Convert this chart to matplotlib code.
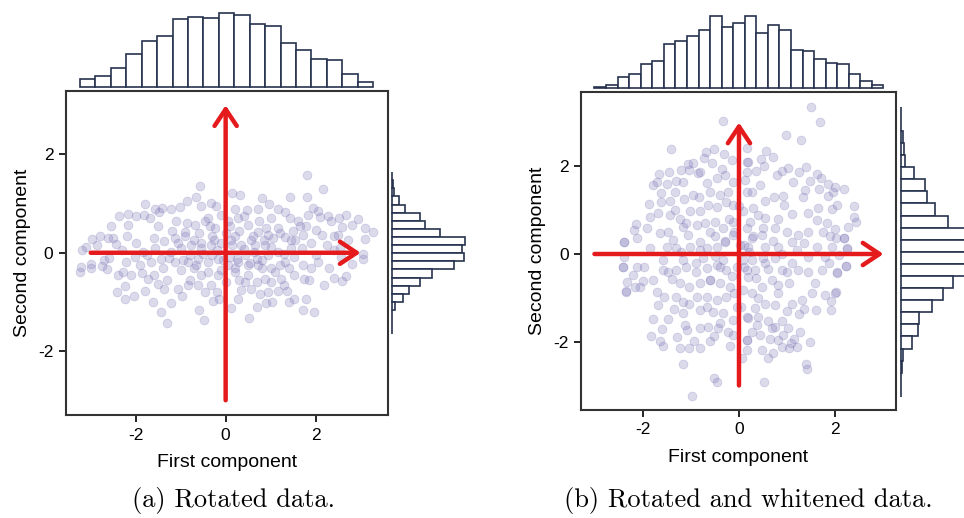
import numpy as np
import matplotlib.pyplot as plt

# ---- data ----
# (a) rotated data: scatter points (first, second component)
rot_pts = [
    (1.81, 1.59), (2.16, 1.29), (-0.57, 1.36), (1.81, 1.14), (1.44, 1.13), (0.14, 1.21), (0.33, 1.17),
    (0.81, 1.11), (-0.67, 1.14), (-0.86, 1.05), (-1.79, 1.00), (-0.33, 1.01), (-0.21, 0.95), (-0.55, 0.95),
    (-1.01, 0.93), (-1.21, 0.89), (-1.42, 0.92), (-1.58, 0.88), (-1.48, 0.82), (-1.81, 0.77), (-2.18, 0.79),
    (-2.38, 0.74), (-1.99, 0.75), (-1.68, 0.71), (0.20, 0.90), (0.47, 0.86), (0.72, 0.90), (0.96, 1.00),
    (1.16, 0.90), (1.31, 0.82), (1.44, 0.71), (1.94, 0.92), (2.05, 0.84), (1.82, 0.77), (2.28, 0.74),
    (2.52, 0.70), (2.68, 0.77), (2.95, 0.68), (2.81, 0.57), (2.59, 0.53), (2.35, 0.64), (2.09, 0.72),
    (1.79, 0.55), (1.61, 0.65), (3.10, 0.50), (3.27, 0.43), (3.10, 0.28), (-2.54, 0.55), (-2.80, 0.34),
    (-2.98, 0.28), (-3.11, 0.12), (-3.19, 0.05), (-3.22, -0.29), (-3.24, -0.40), (-3.00, -0.23),
    (-2.85, 0.16), (-2.61, 0.31), (-2.43, 0.18), (-2.17, 0.57), (-2.74, -0.27), (-2.64, -0.34),
    (-2.99, -0.32), (-2.41, -0.80), (-2.24, -0.94), (-2.23, -0.68), (-2.04, -0.87), (-1.79, -0.78),
    (-1.62, -1.01), (-1.44, -1.20), (-1.31, -1.42), (-1.22, -1.03), (-0.97, -0.88), (-0.60, -1.17),
    (-0.48, -1.36), (-0.28, -0.99), (-0.15, -0.95), (0.12, -1.12), (0.28, -0.95), (0.51, -1.32),
    (0.70, -1.11), (0.90, -1.02), (1.02, -1.00), (1.40, -1.01), (1.53, -0.95), (1.71, -1.16),
    (1.79, -0.95), (1.96, -1.21), (2.18, -0.65), (2.41, -0.51), (2.59, -0.57), (2.67, -0.47),
    (2.81, -0.23), (3.06, -0.12), (3.06, -0.03), (2.57, -0.08), (2.41, 0.05), (2.25, 0.16), (2.14, 0.36),
    (2.50, 0.36), (2.71, 0.26), (2.00, 0.47), (1.72, 0.36), (1.46, 0.26), (1.53, -0.08), (1.72, -0.25),
    (1.90, -0.32), (2.05, -0.18), (1.53, -0.46), (1.75, -0.53), (1.24, -0.53), (1.16, -0.77),
    (1.37, -0.78), (0.94, -0.80), (0.76, -0.84), (0.57, -0.73), (0.42, -0.60), (0.87, -0.53),
    (1.01, -0.32), (0.72, -0.25), (0.50, -0.25), (0.27, -0.18), (0.20, -0.39), (-0.17, -0.46),
    (-0.32, -0.66), (-0.47, -0.80), (-0.61, -0.66), (-0.84, -0.66), (-1.06, -0.73), (-1.36, -0.73),
    (-1.50, -0.63), (-1.73, -0.53), (-1.87, -0.42), (-2.10, -0.46), (-2.28, -0.39), (-2.21, -0.18),
    (-2.02, -0.08), (-1.84, 0.02), (-1.58, 0.09), (-1.36, 0.23), (-1.13, 0.29), (-0.91, 0.43),
    (-0.69, 0.57), (-0.47, 0.64), (-0.24, 0.50), (-0.10, 0.77), (0.05, 0.64), (0.27, 0.71), (0.50, 0.57),
    (0.72, 0.43), (0.94, 0.36), (1.16, 0.50), (1.31, 0.33), (0.87, 0.16), (0.57, 0.26), (0.35, 0.16),
    (0.13, 0.26), (-0.10, 0.19), (-0.32, 0.16), (-0.54, 0.09), (-0.76, 0.16), (-0.99, 0.09),
    (-1.21, 0.02), (-1.43, -0.12), (-1.65, -0.18), (-1.13, -0.18), (-0.84, -0.18), (-0.61, -0.12),
    (-0.39, -0.18), (-0.17, -0.12), (0.05, -0.25), (0.42, -0.05), (0.64, 0.02), (0.94, -0.05),
    (1.16, 0.02), (1.31, -0.18), (-1.20, 0.45), (-0.90, 0.35), (-0.60, 0.40), (-0.30, 0.35), (0.00, 0.40),
    (0.30, 0.45), (0.60, 0.35), (0.90, 0.50), (1.20, 0.40), (1.50, 0.45), (-1.40, -0.30), (-1.00, -0.35),
    (-0.70, -0.30), (-0.40, -0.40), (-0.10, -0.35), (0.20, -0.30), (0.50, -0.45), (0.80, -0.30),
    (1.10, -0.40), (1.40, -0.30), (-1.60, 0.30), (-0.80, -0.05), (-0.50, -0.02), (-0.20, 0.05),
    (0.10, -0.08), (0.40, 0.08), (0.70, -0.12), (1.00, 0.12), (1.30, -0.02), (1.70, 0.10), (-2.00, 0.20),
    (-2.30, 0.05), (-2.60, -0.10), (-1.90, -0.25), (2.00, -0.05), (2.30, -0.30), (1.90, 0.20), (2.40, 0.35),
    (-2.50, 0.30), (-2.70, -0.15), (-1.10, 0.65), (-0.40, 0.70), (0.40, 0.75), (1.00, 0.70), (-0.80, -0.55),
    (0.00, -0.60), (0.70, -0.60), (1.30, -0.65), (-1.30, -0.55), (-0.20, -0.80), (0.35, -0.75),
    (-0.55, 0.20), (0.15, 0.15), (-0.05, -0.15), (0.55, -0.20), (-1.75, -0.05), (1.55, 0.25),
    (-0.35, 0.55), (0.85, 0.25), (-0.95, -0.15),
    # extra points in the dense band
    (-1.05, 0.20), (-0.70, 0.25), (-0.25, 0.25), (0.20, 0.35), (0.65, 0.15), (1.05, 0.30), (1.45, 0.10),
    (-1.25, -0.10), (-0.65, -0.25), (-0.30, -0.05), (0.25, -0.12), (0.80, -0.15), (1.20, -0.25),
    (-1.50, 0.55), (-0.85, 0.60), (0.10, 0.55), (0.75, 0.65), (1.65, 0.55), (-1.60, -0.45), (-0.55, -0.45),
    (0.30, -0.55), (1.00, -0.60), (1.85, -0.55), (-2.40, -0.45), (2.55, 0.10), (-2.20, 0.35),
]

# (b) rotated and whitened data
white_pts = [
    (-0.34, 3.04), (-1.41, 2.39), (-0.51, 2.39), (-0.31, 2.29), (-0.69, 2.33), (-0.73, 2.18), (-0.55, 2.07),
    (-0.95, 2.07), (-1.05, 2.05), (-1.20, 1.92), (-1.45, 1.88), (-1.66, 1.83), (-1.03, 1.92), (-0.86, 1.84),
    (-0.81, 1.88), (-0.35, 1.94), (-0.14, 2.15), (0.16, 2.41), (0.16, 2.11), (-1.78, 1.58), (-1.71, 1.65),
    (-1.50, 1.59), (-1.30, 1.67), (-1.17, 1.64), (-1.33, 1.42), (-1.61, 1.39), (-1.86, 1.15), (-1.62, 1.19),
    (-1.44, 1.22), (-1.33, 1.00), (-1.14, 1.26), (-0.95, 1.35), (-0.67, 1.61), (-0.46, 1.74), (-0.29, 1.80),
    (-0.60, 1.42), (-0.82, 1.31), (-0.39, 1.35), (-0.22, 1.42), (-0.12, 1.65), (0.12, 1.69), (0.16, 1.42),
    (-1.85, 0.85), (-1.68, 0.93), (-1.44, 0.89), (-1.23, 0.81), (-1.02, 0.97), (-0.81, 0.97), (-0.64, 1.12),
    (-0.46, 1.08), (-0.26, 1.19), (-0.12, 1.12), (-2.13, 0.68), (-2.17, 0.55), (-1.92, 0.59), (-2.11, 0.36),
    (-2.39, 0.27), (-1.85, 0.13), (-1.64, 0.49), (-1.47, 0.51), (-1.37, 0.32), (-1.16, 0.62), (-1.05, 0.43),
    (-0.88, 0.66), (-0.81, 0.28), (-0.60, 0.51), (-0.50, 0.74), (-0.33, 0.59), (-0.29, 0.28), (-0.12, 0.74),
    (-0.12, 0.43), (0.09, 0.97), (0.16, 0.59), (-1.30, 0.13), (-1.02, 0.17), (-0.67, 0.13), (-0.46, 0.17),
    (0.02, 0.21), (-1.50, 0.17), (-1.09, 0.70),
    (1.49, 3.36), (1.68, 3.01), (0.98, 2.71), (1.28, 2.61), (0.57, 2.36), (0.71, 2.22), (0.46, 2.16),
    (0.51, 2.01), (0.18, 2.11), (0.16, 1.86), (0.36, 1.90), (1.01, 1.97), (0.90, 1.89), (0.78, 1.80),
    (1.40, 1.99), (1.25, 1.86), (1.63, 1.83), (1.70, 1.74), (1.12, 1.65), (1.48, 1.67), (1.85, 1.59),
    (2.00, 1.53), (2.17, 1.48), (1.95, 1.41), (1.66, 1.48), (1.37, 1.46), (1.32, 1.31), (1.84, 1.33),
    (0.91, 1.33), (0.73, 1.31), (0.54, 1.21), (0.94, 1.12), (1.65, 1.06), (2.04, 1.12), (1.94, 1.02),
    (2.39, 1.10), (2.39, 0.84), (2.43, 0.72), (2.27, 0.62), (1.82, 0.70), (1.61, 0.77), (1.44, 0.93),
    (1.11, 0.91), (0.82, 0.81), (0.54, 0.83), (0.30, 1.04), (0.23, 0.74), (0.44, 1.58), (0.26, 1.42),
    (2.00, 0.56), (2.18, 0.36), (2.02, 0.36), (1.89, 0.40), (1.75, 0.51), (1.44, 0.51), (1.23, 0.43),
    (0.99, 0.51), (0.75, 0.59), (0.47, 0.43), (0.26, 0.36), (1.10, 0.28), (1.34, 0.24), (1.61, 0.17),
    (1.93, 0.17), (2.24, 0.13), (0.82, 0.17), (0.54, 0.17), (0.19, 0.17),
    (-2.38, -0.06), (-2.40, -0.29), (-2.21, -0.48), (-2.32, -0.63), (-2.34, -0.85), (-2.11, -0.29),
    (-1.97, -0.29), (-2.00, -0.62), (-2.16, -0.76), (-2.06, -0.76), (-1.78, -0.59), (-1.57, -0.37),
    (-1.47, -0.40), (-1.40, -0.56), (-1.71, -0.86), (-1.55, -0.97), (-1.68, -1.16), (-1.35, -1.26),
    (-1.78, -1.49), (-1.47, -1.49), (-1.60, -1.71), (-1.83, -1.86), (-1.64, -1.99), (-1.58, -2.11),
    (-1.28, -1.90), (-1.22, -2.14), (-1.03, -2.14), (-0.93, -1.98), (-0.80, -2.14), (-1.16, -2.50),
    (-0.60, -1.98), (-0.51, -1.87), (-0.51, -2.82), (-0.46, -2.92), (-0.98, -3.25), (-1.13, -1.62),
    (-1.07, -1.74), (-0.81, -1.70), (-0.64, -1.66), (-0.43, -1.70), (-0.22, -1.77), (-0.19, -2.10),
    (-0.40, -1.58), (-0.12, -1.85), (0.06, -2.38), (0.16, -1.96), (-1.16, -1.35), (-1.03, -1.13),
    (-0.81, -1.28), (-0.67, -1.20), (-0.53, -1.32), (-0.33, -1.35), (-0.12, -1.51), (-1.30, -0.97),
    (-1.16, -1.09), (-0.88, -0.97), (-0.67, -0.97), (-0.46, -1.06), (-0.26, -0.97), (-0.05, -1.20),
    (0.16, -1.43), (-1.23, -0.67), (-1.03, -0.75), (-0.81, -0.67), (-0.60, -0.59), (-0.40, -0.67),
    (-0.19, -0.75), (0.09, -0.82), (-1.30, -0.37), (-1.09, -0.29), (-0.90, -0.21), (-0.67, -0.33),
    (-0.46, -0.25), (-0.26, -0.37), (-0.05, -0.29), (0.16, -0.37), (-1.57, -0.14), (-1.16, -0.14),
    (-0.74, -0.10), (-0.33, -0.14), (0.09, -0.14),
    (2.22, -0.27), (2.04, -0.43), (1.99, -0.90), (1.91, -1.07), (1.91, -1.28), (1.79, -0.94), (1.59, -1.28),
    (1.48, -2.00), (1.39, -2.50), (1.41, -2.62), (1.27, -1.77), (1.20, -2.12), (1.04, -2.15), (1.07, -2.02),
    (1.14, -1.93), (0.89, -2.12), (0.71, -2.25), (0.61, -2.38), (0.47, -2.19), (0.51, -2.91), (0.82, -1.96),
    (0.64, -1.93), (0.92, -1.85), (0.75, -1.66), (0.68, -1.70), (1.01, -1.68), (0.89, -1.54), (0.26, -1.77),
    (0.44, -1.85), (0.16, -1.96), (0.16, -2.19), (0.37, -1.62), (0.19, -1.47), (0.40, -1.43), (0.61, -1.54),
    (1.25, -1.38), (1.36, -1.26), (0.99, -1.30), (1.10, -1.13), (1.30, -1.05), (1.51, -0.90), (1.58, -0.67),
    (1.44, -0.40), (1.72, -0.37), (1.86, -0.21), (2.07, -0.02), (1.79, -0.06), (1.23, -0.37), (1.03, -0.67),
    (0.82, -0.90), (0.54, -1.13), (0.33, -1.24), (0.75, -1.16), (0.26, -0.90), (0.47, -0.75), (0.68, -0.59),
    (0.89, -0.37), (1.10, -0.21), (0.33, -0.37), (0.54, -0.21), (0.75, -0.10), (0.19, -0.52), (0.26, -0.14),
    (1.44, -0.06), (2.17, 0.36), (2.25, 0.11), (2.22, -0.28), (2.03, -0.40), (2.01, -0.86), (-2.39, 0.27),
    (-2.40, -0.29), (-2.35, -0.86),
    (-0.30, 0.30), (-0.10, 0.50), (0.10, 0.20), (0.30, 0.40), (0.50, 0.60), (0.70, 0.30), (-0.50, 0.40),
    (-0.70, 0.70), (-0.20, 0.80), (0.40, 0.90), (-0.40, -0.30), (-0.15, -0.50), (0.10, -0.30), (0.35, -0.55),
    (0.60, -0.35), (0.80, -0.70), (-0.60, -0.60), (-0.90, -0.40), (-0.10, -0.90), (0.40, -1.00),
    (-0.80, 0.10), (-0.50, -0.05), (0.20, 0.05), (0.50, -0.10), (0.90, 0.00), (1.20, 0.10), (-1.20, 0.05),
    (0.00, 1.10), (0.05, -1.20), (1.00, -0.40),
]

# marginal histograms (relative counts)
rot_top_counts = [10, 15, 25, 45, 62, 69, 92, 94, 93, 100, 97, 85, 83, 59, 50, 37, 36, 17, 7]
rot_top_range = (-3.24, 3.28)
rot_side_counts = [1, 2, 3, 10, 18, 38, 45, 65, 100, 95, 98, 85, 55, 39, 24, 16, 5, 1, 1, 1]  # top to bottom
rot_side_range = (1.64, -1.66)

white_top_counts = [2, 5, 15, 19, 33, 37, 61, 64, 72, 80, 99, 84, 89, 99, 76, 86, 80, 52, 51, 40, 35, 33,
                    20, 10, 4]
white_top_range = (-3.0, 3.0)
white_side_counts = [1, 1, 3, 5, 6, 18, 33, 36, 47, 65, 100, 93, 96, 91, 72, 58, 43, 25, 24, 15, 3, 2, 1, 1]
white_side_range = (3.36, -3.26)

ticks = [-2, 0, 2]
tick_labels = ['-2', '0', '2']
captions = ['(a) Rotated data.', '(b) Rotated and whitened data.']

# ---- styling ----
W, H = 964, 518
pt_col = '#7570b3'
red = '#e41a1c'
bar_edge = '#26334f'
spine_col = '#333333'
sans = ['Liberation Sans', 'DejaVu Sans']

fig = plt.figure(figsize=(W / 100, H / 100), dpi=100)


def px_axes(x0, y0, x1, y1):
    # box given in pixel coords (top-left origin)
    return fig.add_axes([x0 / W, 1 - y1 / H, (x1 - x0) / W, (y1 - y0) / H])


def hist_bars(ax, counts, rng, horizontal=False):
    edges = np.linspace(rng[0], rng[1], len(counts) + 1)
    centers = (edges[:-1] + edges[1:]) / 2
    width = abs(edges[1] - edges[0])
    if horizontal:
        ax.barh(centers, counts, height=width, color='white', edgecolor=bar_edge, linewidth=1.2,
                clip_on=False)
        ax.set_xlim(0, max(counts))
    else:
        ax.bar(centers, counts, width=width, color='white', edgecolor=bar_edge, linewidth=1.2,
               clip_on=False)
        ax.set_ylim(0, max(counts))
    ax.axis('off')


def panel(pts, box, xlim, ylim, top_box, top_counts, top_rng, side_box, side_counts, side_rng):
    pts = np.array(pts)
    ax = px_axes(*box)
    ax.scatter(pts[:, 0], pts[:, 1], s=40, color=pt_col, alpha=0.26, linewidths=0.6,
               edgecolors=pt_col, zorder=2)
    for start, end in [((-3, 0), (3, 0)), ((0, -3), (0, 3))]:
        ax.annotate('', xy=end, xytext=start, zorder=3,
                    arrowprops=dict(arrowstyle='->,head_length=0.6,head_width=0.4', color=red, lw=3.2,
                                    mutation_scale=20, shrinkA=0, shrinkB=0))
    ax.set_xlim(*xlim)
    ax.set_ylim(*ylim)
    ax.set_xticks(ticks)
    ax.set_yticks(ticks)
    ax.set_xticklabels(tick_labels, family=sans, fontsize=12.5)
    ax.set_yticklabels(tick_labels, family=sans, fontsize=12.5)
    ax.tick_params(direction='out', length=5, width=1.2, colors='black', top=False, right=False, pad=4)
    for s in ax.spines.values():
        s.set_color(spine_col)
        s.set_linewidth(1.5)
    ax.set_xlabel('First component', family=sans, fontsize=14, labelpad=8)
    ax.set_ylabel('Second component', family=sans, fontsize=14, labelpad=5)

    axt = px_axes(*top_box)
    hist_bars(axt, top_counts, top_rng)
    axt.set_xlim(*xlim)

    axs = px_axes(*side_box)
    hist_bars(axs, side_counts, side_rng, horizontal=True)
    axs.set_ylim(*ylim)
    return ax


panel(rot_pts, (66, 91, 388, 415), (-3.55, 3.61), (-3.30, 3.29),
      (66, 13, 388, 86.7), rot_top_counts, rot_top_range,
      (391.7, 91, 465.3, 415), rot_side_counts, rot_side_range)

panel(white_pts, (581, 92.3, 896, 410), (-3.28, 3.26), (-3.56, 3.69),
      (581, 15.7, 896, 88.3), white_top_counts, white_top_range,
      (900.7, 92.3, 973.7, 410), white_side_counts, white_side_range)

fig.text(234 / W, 1 - 500 / H, captions[0], ha='center', va='center', family='cmr10', fontsize=19)
fig.text(748 / W, 1 - 500 / H, captions[1], ha='center', va='center', family='cmr10', fontsize=19)

fig.savefig('out.png', dpi=100)
